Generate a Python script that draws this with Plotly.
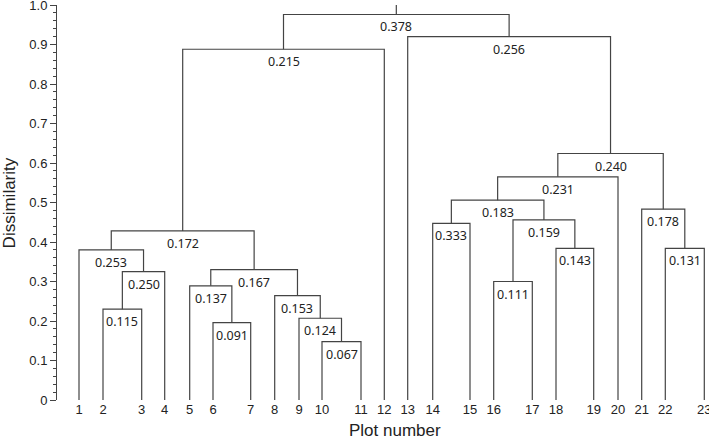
import plotly.graph_objects as go

# ---- data ----
plot_numbers = [str(i) for i in range(1, 24)]
# position of each plot (leaf) along the horizontal axis (arbitrary units)
leaf_positions = [22, 46, 84.7, 107.7, 132.7, 156, 193.7, 217.7, 242, 265, 304,
                  327.3, 350.7, 375.7, 413, 436.7, 475.3, 499, 536.7, 561,
                  584.7, 608.3, 647.3]

# merges: children are leaf numbers (int) or earlier merges ("M<k>")
merge_left = [2, "M0", 1, 6, 5, 10, 9, 8, "M4", "M2", "M9",
              14, 16, 18, "M12", "M11", "M15", 22, 21, "M16", 13, "M10"]
merge_right = [3, 4, "M1", 7, "M3", 11, "M5", "M6", "M7", "M8", 12,
               15, 17, 19, "M13", "M14", 20, 23, "M17", "M18", "M19", "M20"]
merge_heights = [0.230, 0.325, 0.380, 0.196, 0.289, 0.148, 0.207, 0.264, 0.330,
                 0.428, 0.888, 0.447, 0.300, 0.384, 0.456, 0.506, 0.565, 0.384,
                 0.483, 0.624, 0.920, 0.976]
merge_labels = ["0.115", "0.250", "0.253", "0.091", "0.137", "0.067", "0.124",
                "0.153", "0.167", "0.172", "0.215", "0.333", "0.111", "0.143",
                "0.159", "0.183", "0.231", "0.131", "0.178", "0.240", "0.256",
                "0.378"]
root_top = 1.0

y_tick_values = [round(0.1 * i, 1) for i in range(11)]
y_tick_text = ["0", "0.1", "0.2", "0.3", "0.4", "0.5", "0.6", "0.7", "0.8", "0.9", "1.0"]

# ---- build dendrogram paths ----
node_x = {}
node_h = {}
for i, p in enumerate(leaf_positions):
    node_x[i + 1] = p
    node_h[i + 1] = 0.0

xs, ys = [], []
annotations = []
label_font = dict(family="Noto Sans, sans-serif", size=12.5, color="#222")
for k, (l, r, h, lab) in enumerate(zip(merge_left, merge_right, merge_heights, merge_labels)):
    xl, xr = node_x[l], node_x[r]
    xs += [xl, xl, xr, xr, None]
    ys += [node_h[l], h, h, node_h[r], None]
    cx = (xl + xr) / 2
    node_x[f"M{k}"] = cx
    node_h[f"M{k}"] = h
    annotations.append(dict(x=cx, y=h, xref="x", yref="y", text=lab, showarrow=False,
                            xanchor="center", yanchor="top", yshift=-2, font=label_font))

root = f"M{len(merge_heights) - 1}"
xs += [node_x[root], node_x[root], None]
ys += [node_h[root], root_top, None]

line_color = "#444444"
fig = go.Figure(go.Scatter(x=xs, y=ys, mode="lines",
                           line=dict(color=line_color, width=1.2),
                           hoverinfo="skip", showlegend=False, cliponaxis=False))

axis_font = dict(family="Liberation Sans, Arial, sans-serif", size=13, color="#222")
title_font = dict(family="Liberation Sans, Arial, sans-serif", size=17, color="#222")

annotations.append(dict(x=338, y=-0.078, xref="x", yref="paper", text="Plot number",
                        showarrow=False, xanchor="center", yanchor="middle", font=title_font))
annotations.append(dict(x=-0.0725, y=0.5, xref="paper", yref="paper", text="Dissimilarity",
                        showarrow=False, xanchor="center", yanchor="middle", textangle=-90,
                        font=title_font))

fig.update_layout(
    width=709, height=440,
    margin=dict(l=57, r=2, t=5, b=40, autoexpand=False),
    plot_bgcolor="white", paper_bgcolor="white",
    annotations=annotations,
    xaxis=dict(range=[0, 650], showline=False, showgrid=False, zeroline=False,
               tickvals=leaf_positions, ticktext=plot_numbers, ticks="",
               tickfont=axis_font, ticklabeloverflow="allow", automargin=False,
               fixedrange=True),
    yaxis=dict(range=[0, 1], showline=True, linecolor=line_color, linewidth=1,
               showgrid=False, zeroline=False, ticks="outside", ticklen=6,
               tickwidth=1, tickcolor=line_color, tickvals=y_tick_values,
               ticktext=y_tick_text, tickfont=axis_font, ticklabeloverflow="allow",
               automargin=False,
               minor=dict(dtick=0.02, tick0=0, ticks="outside", ticklen=3.5,
                          tickwidth=1, tickcolor=line_color, showgrid=False),
               fixedrange=True),
)

fig.write_html("out.html",
               config={"displayModeBar": False},
               post_script="document.body.style.margin='0';document.body.style.overflow='hidden';")
